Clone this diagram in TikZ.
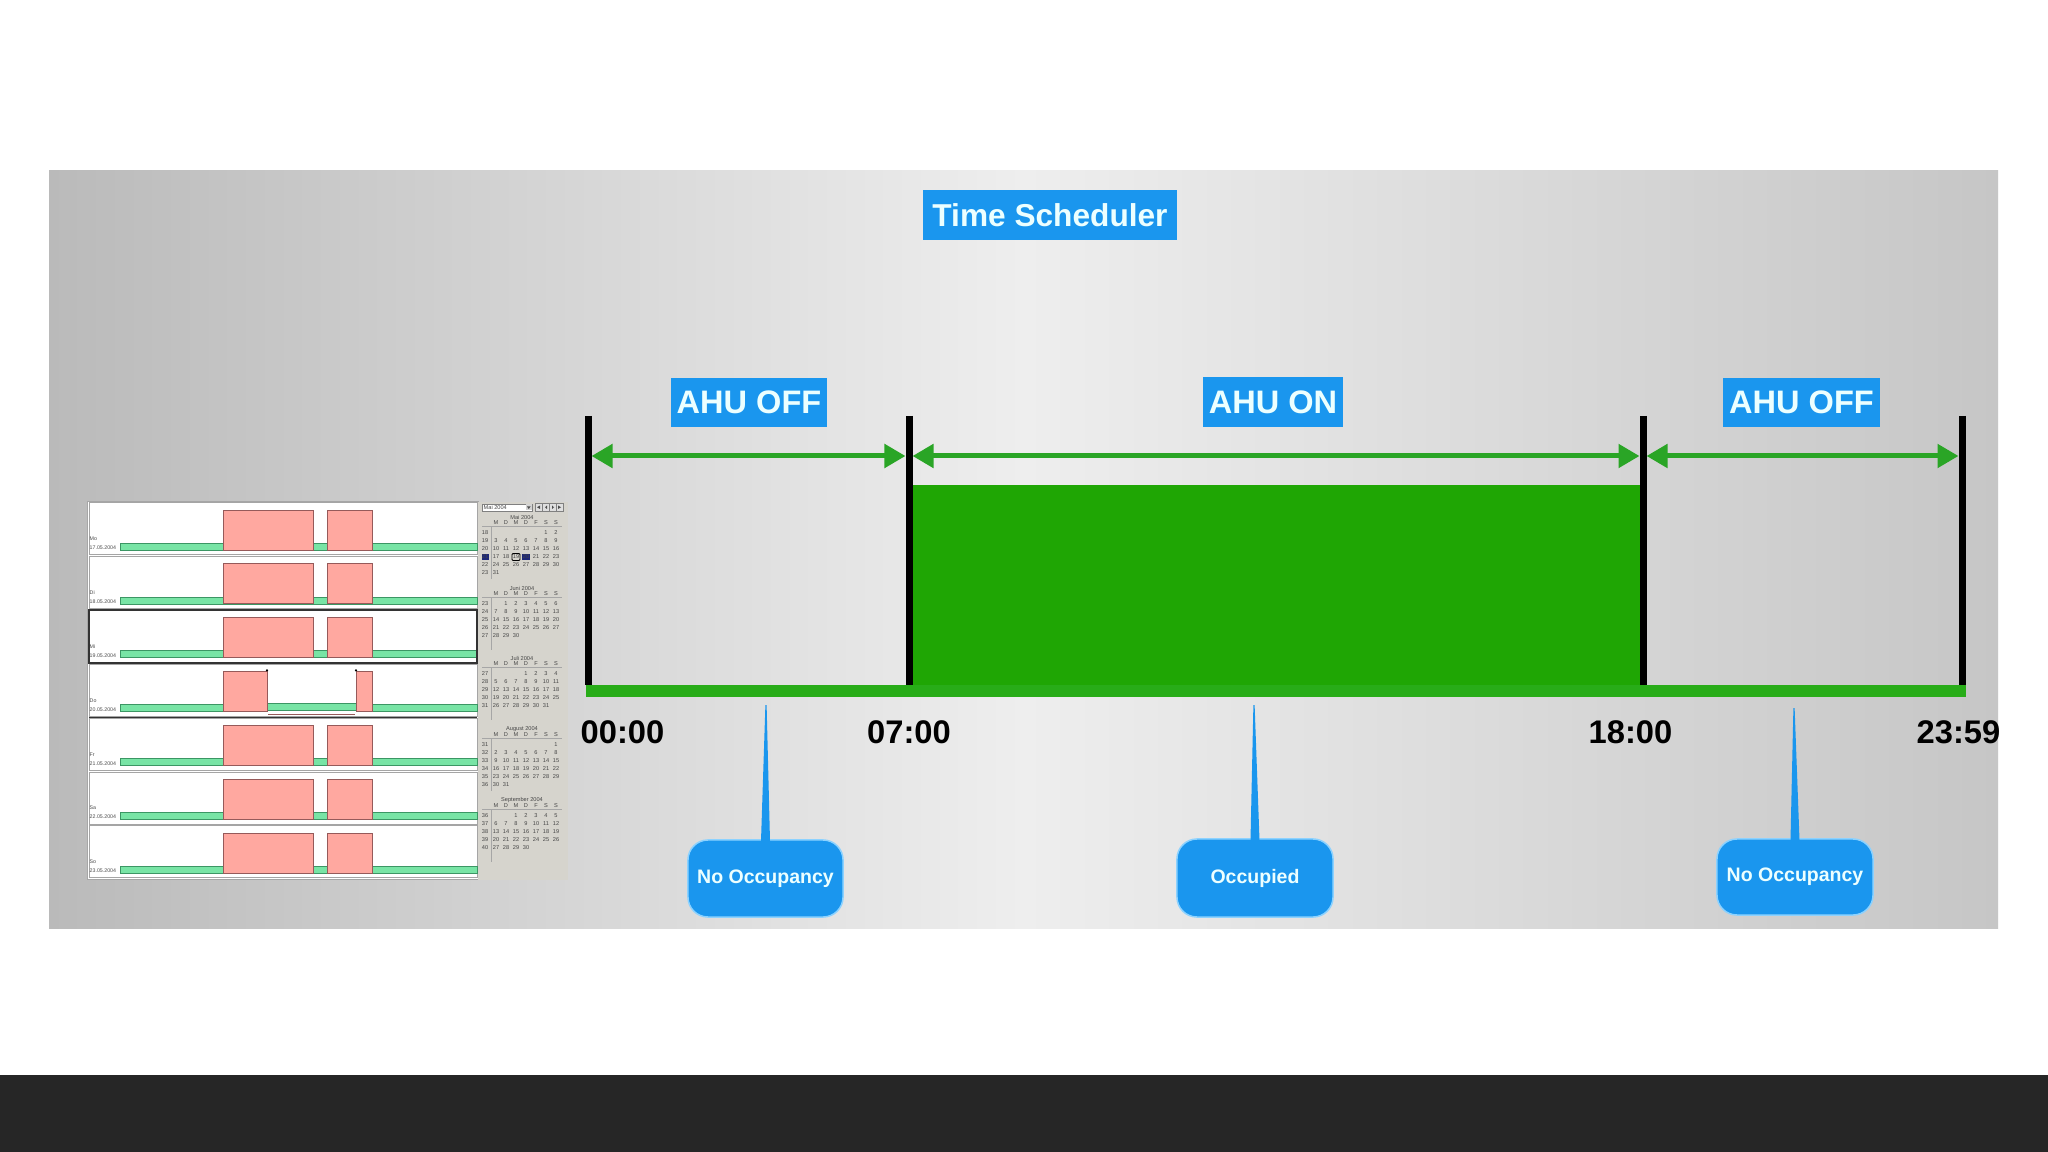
\documentclass[tikz,border=0pt]{standalone}
\usepackage{fontspec}
\setmainfont{Liberation Sans}
\usetikzlibrary{arrows.meta}
\definecolor{panelL}{RGB}{186,186,186}
\definecolor{panelM}{RGB}{238,238,238}
\definecolor{panelR}{RGB}{198,198,198}
\definecolor{darkbar}{RGB}{38,38,38}
\definecolor{lblblue}{RGB}{26,150,238}
\definecolor{lbltext}{RGB}{236,255,255}
\definecolor{glow}{RGB}{140,210,255}
\definecolor{arrowgreen}{RGB}{42,165,38}
\definecolor{blockgreen}{RGB}{31,166,4}
\definecolor{bargreen}{RGB}{40,172,24}
\definecolor{pinkblk}{RGB}{255,168,160}
\definecolor{pinkedge}{RGB}{150,90,90}
\definecolor{mint}{RGB}{120,228,165}
\definecolor{mintedge}{RGB}{60,150,100}
\definecolor{calbg}{RGB}{214,212,205}
\definecolor{caltext}{RGB}{70,70,70}
\definecolor{calnavy}{RGB}{30,40,120}
\definecolor{rowedge}{RGB}{165,165,165}
\tikzset{
 ahutag/.style={fill=lblblue, text=lbltext, font=\bfseries\fontsize{9.25}{11}\selectfont, inner sep=0pt, minimum height=0.49cm},
 timelbl/.style={font=\bfseries\fontsize{9.3}{11}\selectfont, text=black, inner sep=0pt},
 bubble/.style={fill=lblblue, draw=glow, line width=0.015cm, rounded corners=0.2cm, text=lbltext, font=\bfseries\fontsize{5.55}{7}\selectfont, minimum width=1.55cm, minimum height=0.77cm, inner sep=0pt},
 spike/.style={fill=lblblue},
 tickline/.style={line width=0.07cm, black},
 spanarrow/.style={arrowgreen, line width=0.05cm, {Triangle[length=0.21cm,width=0.23cm]}-{Triangle[length=0.21cm,width=0.23cm]}},
 caltxt/.style={font=\fontsize{1.6}{2}\selectfont, text=caltext, inner sep=0pt},
 calline/.style={draw=gray!70, line width=0.005cm},
 schtxt/.style={font=\fontsize{1.5}{2}\selectfont, text=black!70, inner sep=0pt, anchor=west},
 pinkbox/.style={fill=pinkblk, draw=pinkedge, line width=0.006cm},
 mintbox/.style={fill=mint, draw=mintedge, line width=0.004cm},
}
\newcommand{\calMonth}[6]{%
  \node[caltxt] (#6t) at (522,#2) {#1};
  \foreach \hd [count=\cI from 0] in {M,D,M,D,F,S,S}
    \node[caltxt] (#6h\cI) at ({496+10*\cI},{#2+6}) {\hd};
  \draw[calline] (482,{#2+9}) -- (562,{#2+9});
  \draw[calline] (491,{#2+10}) -- (491,{#2+62});
  \pgfmathtruncatemacro{\nrw}{ceil((#3+#4)/7)}
  \foreach \rw in {1,...,\nrw}{%
    \pgfmathtruncatemacro{\wk}{#5+\rw-1}
    \node[caltxt] (#6w\rw) at (485,{#2+8+8*\rw}) {\wk};}
  \foreach \dy in {1,...,#4}{%
    \pgfmathtruncatemacro{\posI}{#3+\dy-1}
    \pgfmathtruncatemacro{\colI}{mod(\posI,7)}
    \pgfmathtruncatemacro{\rowI}{div(\posI,7)}
    \node[caltxt] (#6d\dy) at ({496+10*\colI},{#2+16+8*\rowI}) {\dy};}
}
\begin{document}
\begin{tikzpicture}[x=0.01cm, y=-0.01cm]
\useasboundingbox (0,0) rectangle (2048,1152);
\fill[white] (0,0) rectangle (2048,1152);
\fill[darkbar] (0,1075) rectangle (2048,1152);
\shade[left color=panelL, right color=panelR, middle color=panelM] (49,171) rectangle (1998,928);

% ---------- schedule screenshot ----------
\fill[white] (87,502) rectangle (478,879);
\draw[gray!70, line width=0.01cm] (87,502) rectangle (478,879);
\foreach \dn/\dt [count=\i from 0] in {Mo/17.05.2004, Di/18.05.2004, Mi/19.05.2004, Do/20.05.2004, Fr/21.05.2004, Sa/22.05.2004, So/23.05.2004}{
  \pgfmathsetmacro{\rt}{502+53.8*\i}
  \draw[rowedge, line width=0.01cm] (89,\rt+1) rectangle (477,\rt+53);
  \ifnum\i=3
    \fill[mintbox] (120,\rt+41) rectangle (223,\rt+48);
    \fill[mintbox] (267,\rt+40) rectangle (356,\rt+47);
    \fill[mintbox] (372,\rt+41) rectangle (477,\rt+48);
    \fill[pinkbox] (223,\rt+8) rectangle (267,\rt+48);
    \fill[pinkbox] (356,\rt+8) rectangle (372,\rt+48);
    \draw[pinkedge, line width=0.008cm] (268,\rt+51) -- (355,\rt+51);
    \fill[black] (267,\rt+7) circle (1.2);
    \fill[black] (356,\rt+7) circle (1.2);
  \else
    \fill[mintbox] (120,\rt+41) rectangle (477,\rt+48);
    \fill[pinkbox] (223,\rt+8) rectangle (313,\rt+48);
    \fill[pinkbox] (327,\rt+8) rectangle (372,\rt+48);
  \fi
  \node[schtxt] (day\i) at (89,\rt+37) {\dn};
  \node[schtxt] (date\i) at (89,\rt+46) {\dt};
}
\draw[black!80, line width=0.015cm] (89,610) rectangle (477,663);
\draw[black!80, line width=0.012cm] (89,717.5) -- (477,717.5);

% ---------- calendar ----------
\fill[calbg] (478,502) rectangle (568,880);
\draw[fill=white, draw=gray, line width=0.005cm] (482,504) rectangle (532,511);
\node[caltxt, anchor=west] (dropdown) at (483,507.5) {Mai 2004};
\fill[gray!35] (526,504.5) rectangle (531.5,510.5);
\fill[black!70] (527,506.5) -- (530.5,506.5) -- (528.75,509) -- cycle;
\foreach \bx in {535,542,549,556}{
  \draw[fill=gray!25, draw=gray, line width=0.005cm] (\bx,503.5) rectangle (\bx+7,511);
}
\fill[black!70] (537,507.25) -- (540,505.5) -- (540,509) -- cycle;
\fill[black!70] (545,507.25) -- (547,505.5) -- (547,509) -- cycle;
\fill[black!70] (554,507.25) -- (552,505.5) -- (552,509) -- cycle;
\fill[black!70] (561,507.25) -- (558,505.5) -- (558,509) -- cycle;
\fill[calnavy] (482,554) rectangle (489,560);
\fill[calnavy] (522,554) rectangle (530,560);
\draw[black, line width=0.008cm, rounded corners=0.01cm] (512,553.5) rectangle (520,560.5);
\calMonth{Mai 2004}{517}{5}{31}{18}{mai}
\calMonth{Juni 2004}{588}{1}{30}{23}{jun}
\calMonth{Juli 2004}{658}{3}{31}{27}{jul}
\calMonth{August 2004}{729}{6}{31}{31}{aug}
\calMonth{September 2004}{800}{2}{30}{36}{sep}

% ---------- timeline ----------
\fill[blockgreen] (912,485) rectangle (1640,690);
\fill[bargreen] (586,685) rectangle (1966,697);
\coordinate (t0) at (588,456);
\coordinate (t1) at (909,456);
\coordinate (t2) at (1643,456);
\coordinate (t3) at (1962,456);
\coordinate (b0) at (588,416); \coordinate (e0) at (588,685);
\coordinate (b1) at (909,416); \coordinate (e1) at (909,685);
\coordinate (b2) at (1643,416); \coordinate (e2) at (1643,685);
\coordinate (b3) at (1962,416); \coordinate (e3) at (1962,685);
\draw[tickline] (b0) -- (e0);
\draw[tickline] (b1) -- (e1);
\draw[tickline] (b2) -- (e2);
\draw[tickline] (b3) -- (e3);
\draw[spanarrow] ([xshift=0.035cm]t0) -- ([xshift=-0.035cm]t1);
\draw[spanarrow] ([xshift=0.035cm]t1) -- ([xshift=-0.035cm]t2);
\draw[spanarrow] ([xshift=0.035cm]t2) -- ([xshift=-0.035cm]t3);

\node[ahutag, minimum width=2.54cm, minimum height=0.50cm, font=\bfseries\fontsize{9.0}{11}\selectfont] (title) at (1050,215) {Time Scheduler};
\node[ahutag, minimum width=1.56cm] (off1) at (749,402.5) {AHU OFF};
\node[ahutag, minimum width=1.40cm] (on) at (1273,402) {AHU ON};
\node[ahutag, minimum width=1.57cm] (off2) at (1801.5,402.5) {AHU OFF};

\node[timelbl] (l0) at (622.5,732) {00:00};
\node[timelbl] (l1) at (909,732) {07:00};
\node[timelbl] (l2) at (1630.5,732) {18:00};
\begin{scope}
\clip (49,171) rectangle (1998,928);
\node[timelbl, anchor=west] (l3) at (1916,732) {23:59};
\end{scope}

% ---------- callouts ----------
\coordinate (tip1) at (766,705);
\coordinate (tip2) at (1254,705);
\coordinate (tip3) at (1794,708);
\node[bubble] (c1) at (765.5,878.5) {No Occupancy};
\node[bubble, minimum width=1.56cm, minimum height=0.78cm] (c2) at (1255,878) {Occupied};
\node[bubble, minimum width=1.56cm, minimum height=0.76cm] (c3) at (1795,877) {No Occupancy};
\fill[spike] ([xshift=-0.045cm, yshift=-0.02cm]c1.north) -- ([xshift=-0.006cm]tip1) -- ([xshift=0.006cm]tip1) -- ([xshift=0.045cm, yshift=-0.02cm]c1.north) -- cycle;
\fill[spike] ([xshift=-0.045cm, yshift=-0.02cm]c2.north) -- ([xshift=-0.006cm]tip2) -- ([xshift=0.006cm]tip2) -- ([xshift=0.045cm, yshift=-0.02cm]c2.north) -- cycle;
\fill[spike] ([xshift=-0.045cm, yshift=-0.02cm]c3.north) -- ([xshift=-0.006cm]tip3) -- ([xshift=0.006cm]tip3) -- ([xshift=0.045cm, yshift=-0.02cm]c3.north) -- cycle;
\end{tikzpicture}
\end{document}
